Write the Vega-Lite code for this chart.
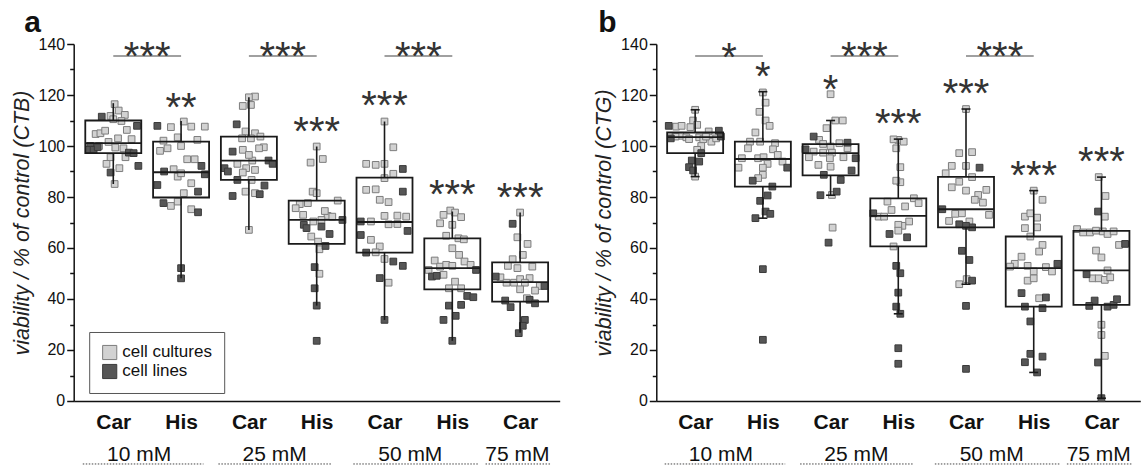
{
  "$schema": "https://vega.github.io/schema/vega-lite/v6.json",
  "background": "white",
  "padding": {"left": 10.7, "top": 8, "right": 0, "bottom": 0},
  "spacing": 33.6,
  "config": {
    "view": {"stroke": null},
    "font": "Liberation Sans",
    "axis": {"labelFont": "Liberation Sans", "titleFont": "Liberation Sans"},
    "legend": {"labelFont": "Liberation Sans"}
  },
  "resolve": {
    "scale": {"x": "independent", "y": "independent", "fill": "independent", "stroke": "independent"},
    "legend": {"fill": "independent", "stroke": "independent"}
  },
  "datasets": {
    "pa": [
      {"x":1.02,"y":116.4,"t":"cell cultures"},{"x":0.96,"y":111.8,"t":"cell cultures"},{"x":1.08,"y":113.9,"t":"cell cultures"},{"x":1.17,"y":112.2,"t":"cell cultures"},{"x":1.0,"y":110.5,"t":"cell cultures"},{"x":1.12,"y":109.8,"t":"cell cultures"},{"x":0.74,"y":104.7,"t":"cell cultures"},{"x":0.81,"y":105.0,"t":"cell cultures"},{"x":0.88,"y":106.0,"t":"cell cultures"},{"x":1.2,"y":106.3,"t":"cell cultures"},{"x":1.27,"y":102.7,"t":"cell cultures"},{"x":0.93,"y":101.6,"t":"cell cultures"},{"x":1.07,"y":103.0,"t":"cell cultures"},{"x":1.03,"y":99.4,"t":"cell cultures"},{"x":1.18,"y":95.6,"t":"cell cultures"},{"x":0.96,"y":95.6,"t":"cell cultures"},{"x":0.9,"y":93.0,"t":"cell cultures"},{"x":1.09,"y":91.3,"t":"cell cultures"},{"x":1.02,"y":85.1,"t":"cell cultures"},{"x":1.15,"y":99.1,"t":"cell cultures"},{"x":0.79,"y":100.0,"t":"cell cultures"},
      {"x":0.83,"y":111.5,"t":"cell lines"},{"x":1.35,"y":107.9,"t":"cell lines"},{"x":0.66,"y":100.0,"t":"cell lines"},{"x":0.64,"y":98.5,"t":"cell lines"},{"x":0.71,"y":98.5,"t":"cell lines"},{"x":0.77,"y":99.5,"t":"cell lines"},{"x":1.23,"y":97.4,"t":"cell lines"},{"x":1.3,"y":97.2,"t":"cell lines"},{"x":1.37,"y":92.2,"t":"cell lines"},{"x":0.96,"y":89.6,"t":"cell lines"},
      {"x":2.04,"y":109.6,"t":"cell cultures"},{"x":1.85,"y":107.4,"t":"cell cultures"},{"x":2.15,"y":107.6,"t":"cell cultures"},{"x":2.35,"y":107.6,"t":"cell cultures"},{"x":1.95,"y":103.4,"t":"cell cultures"},{"x":1.74,"y":102.1,"t":"cell cultures"},{"x":1.8,"y":99.1,"t":"cell cultures"},{"x":1.69,"y":98.1,"t":"cell cultures"},{"x":2.0,"y":100.0,"t":"cell cultures"},{"x":2.24,"y":102.4,"t":"cell cultures"},{"x":2.09,"y":94.8,"t":"cell cultures"},{"x":2.2,"y":94.8,"t":"cell cultures"},{"x":1.89,"y":90.9,"t":"cell cultures"},{"x":1.95,"y":88.0,"t":"cell cultures"},{"x":2.0,"y":89.3,"t":"cell cultures"},{"x":2.15,"y":85.4,"t":"cell cultures"},{"x":2.04,"y":81.5,"t":"cell cultures"},{"x":1.85,"y":76.5,"t":"cell cultures"},{"x":2.15,"y":75.2,"t":"cell cultures"},{"x":1.95,"y":78.2,"t":"cell cultures"},
      {"x":1.65,"y":107.9,"t":"cell lines"},{"x":2.3,"y":92.2,"t":"cell lines"},{"x":1.75,"y":90.0,"t":"cell lines"},{"x":2.35,"y":88.9,"t":"cell lines"},{"x":1.65,"y":84.7,"t":"cell lines"},{"x":2.25,"y":82.1,"t":"cell lines"},{"x":1.74,"y":77.6,"t":"cell lines"},{"x":2.25,"y":74.0,"t":"cell lines"},{"x":2.0,"y":52.1,"t":"cell lines"},{"x":2.0,"y":48.1,"t":"cell lines"},
      {"x":3.09,"y":119.4,"t":"cell cultures"},{"x":3.0,"y":119.1,"t":"cell cultures"},{"x":2.91,"y":115.7,"t":"cell cultures"},{"x":3.03,"y":116.1,"t":"cell cultures"},{"x":2.95,"y":105.7,"t":"cell cultures"},{"x":3.09,"y":105.0,"t":"cell cultures"},{"x":3.17,"y":103.7,"t":"cell cultures"},{"x":2.9,"y":103.0,"t":"cell cultures"},{"x":3.03,"y":103.0,"t":"cell cultures"},{"x":3.22,"y":99.5,"t":"cell cultures"},{"x":3.15,"y":99.1,"t":"cell cultures"},{"x":2.91,"y":98.5,"t":"cell cultures"},{"x":2.83,"y":93.0,"t":"cell cultures"},{"x":2.96,"y":91.3,"t":"cell cultures"},{"x":3.09,"y":90.6,"t":"cell cultures"},{"x":2.91,"y":89.6,"t":"cell cultures"},{"x":3.05,"y":94.3,"t":"cell cultures"},{"x":3.0,"y":96.5,"t":"cell cultures"},{"x":2.95,"y":82.1,"t":"cell cultures"},{"x":3.09,"y":81.5,"t":"cell cultures"},{"x":3.0,"y":67.1,"t":"cell cultures"},{"x":3.04,"y":86.7,"t":"cell cultures"},
      {"x":2.82,"y":108.5,"t":"cell lines"},{"x":2.76,"y":97.8,"t":"cell lines"},{"x":2.64,"y":91.3,"t":"cell lines"},{"x":2.69,"y":90.0,"t":"cell lines"},{"x":3.29,"y":94.3,"t":"cell lines"},{"x":3.35,"y":93.0,"t":"cell lines"},{"x":2.83,"y":86.7,"t":"cell lines"},{"x":3.23,"y":84.5,"t":"cell lines"},{"x":2.76,"y":80.4,"t":"cell lines"},{"x":3.16,"y":81.1,"t":"cell lines"},
      {"x":4.0,"y":99.8,"t":"cell cultures"},{"x":4.09,"y":94.9,"t":"cell cultures"},{"x":3.91,"y":93.5,"t":"cell cultures"},{"x":3.94,"y":82.1,"t":"cell cultures"},{"x":4.0,"y":81.5,"t":"cell cultures"},{"x":4.31,"y":78.6,"t":"cell cultures"},{"x":3.87,"y":77.6,"t":"cell cultures"},{"x":3.75,"y":77.2,"t":"cell cultures"},{"x":3.69,"y":75.6,"t":"cell cultures"},{"x":3.8,"y":73.0,"t":"cell cultures"},{"x":4.16,"y":72.6,"t":"cell cultures"},{"x":4.23,"y":72.3,"t":"cell cultures"},{"x":4.07,"y":71.0,"t":"cell cultures"},{"x":3.95,"y":70.4,"t":"cell cultures"},{"x":3.92,"y":64.5,"t":"cell cultures"},{"x":4.02,"y":62.5,"t":"cell cultures"},{"x":4.04,"y":59.5,"t":"cell cultures"},{"x":4.04,"y":49.9,"t":"cell cultures"},{"x":4.12,"y":74.5,"t":"cell cultures"},
      {"x":4.07,"y":68.4,"t":"cell lines"},{"x":4.19,"y":65.5,"t":"cell lines"},{"x":3.81,"y":69.1,"t":"cell lines"},{"x":3.85,"y":67.8,"t":"cell lines"},{"x":4.13,"y":60.8,"t":"cell lines"},{"x":3.97,"y":52.5,"t":"cell lines"},{"x":3.97,"y":44.2,"t":"cell lines"},{"x":4.0,"y":37.4,"t":"cell lines"},{"x":4.0,"y":23.6,"t":"cell lines"},{"x":4.38,"y":71.0,"t":"cell lines"},
      {"x":5.0,"y":109.6,"t":"cell cultures"},{"x":5.13,"y":99.5,"t":"cell cultures"},{"x":4.73,"y":93.0,"t":"cell cultures"},{"x":4.87,"y":92.6,"t":"cell cultures"},{"x":5.0,"y":93.0,"t":"cell cultures"},{"x":5.13,"y":89.1,"t":"cell cultures"},{"x":5.0,"y":87.4,"t":"cell cultures"},{"x":4.73,"y":82.8,"t":"cell cultures"},{"x":4.87,"y":83.0,"t":"cell cultures"},{"x":4.93,"y":78.9,"t":"cell cultures"},{"x":5.06,"y":78.0,"t":"cell cultures"},{"x":5.0,"y":72.6,"t":"cell cultures"},{"x":5.19,"y":72.7,"t":"cell cultures"},{"x":5.32,"y":72.3,"t":"cell cultures"},{"x":4.8,"y":70.4,"t":"cell cultures"},{"x":5.06,"y":69.3,"t":"cell cultures"},{"x":5.19,"y":69.4,"t":"cell cultures"},{"x":4.8,"y":63.2,"t":"cell cultures"},{"x":4.93,"y":60.6,"t":"cell cultures"},{"x":4.87,"y":58.3,"t":"cell cultures"},{"x":5.0,"y":55.7,"t":"cell cultures"},{"x":5.06,"y":46.4,"t":"cell cultures"},
      {"x":5.27,"y":91.0,"t":"cell lines"},{"x":5.27,"y":82.1,"t":"cell lines"},{"x":4.65,"y":70.4,"t":"cell lines"},{"x":4.65,"y":65.1,"t":"cell lines"},{"x":5.34,"y":66.7,"t":"cell lines"},{"x":4.73,"y":58.2,"t":"cell lines"},{"x":5.13,"y":54.7,"t":"cell lines"},{"x":5.27,"y":53.0,"t":"cell lines"},{"x":4.93,"y":48.2,"t":"cell lines"},{"x":5.0,"y":31.8,"t":"cell lines"},
      {"x":5.97,"y":74.7,"t":"cell cultures"},{"x":6.04,"y":73.9,"t":"cell cultures"},{"x":5.87,"y":73.0,"t":"cell cultures"},{"x":6.13,"y":72.1,"t":"cell cultures"},{"x":5.82,"y":69.7,"t":"cell cultures"},{"x":6.0,"y":69.1,"t":"cell cultures"},{"x":5.91,"y":64.8,"t":"cell cultures"},{"x":6.09,"y":63.8,"t":"cell cultures"},{"x":6.17,"y":63.4,"t":"cell cultures"},{"x":6.0,"y":59.9,"t":"cell cultures"},{"x":6.1,"y":57.3,"t":"cell cultures"},{"x":6.18,"y":54.7,"t":"cell cultures"},{"x":5.74,"y":55.1,"t":"cell cultures"},{"x":5.82,"y":52.7,"t":"cell cultures"},{"x":5.91,"y":53.4,"t":"cell cultures"},{"x":6.0,"y":53.0,"t":"cell cultures"},{"x":6.27,"y":53.4,"t":"cell cultures"},{"x":5.87,"y":49.5,"t":"cell cultures"},{"x":6.04,"y":46.8,"t":"cell cultures"},{"x":6.13,"y":44.2,"t":"cell cultures"},{"x":5.95,"y":44.2,"t":"cell cultures"},{"x":5.65,"y":51.4,"t":"cell cultures"},
      {"x":5.7,"y":48.8,"t":"cell lines"},{"x":5.77,"y":49.1,"t":"cell lines"},{"x":6.35,"y":51.4,"t":"cell lines"},{"x":6.22,"y":41.2,"t":"cell lines"},{"x":6.31,"y":40.7,"t":"cell lines"},{"x":5.95,"y":37.4,"t":"cell lines"},{"x":6.13,"y":37.7,"t":"cell lines"},{"x":6.05,"y":33.4,"t":"cell lines"},{"x":5.87,"y":31.8,"t":"cell lines"},{"x":6.0,"y":23.6,"t":"cell lines"},
      {"x":7.0,"y":73.9,"t":"cell cultures"},{"x":6.96,"y":64.2,"t":"cell cultures"},{"x":7.11,"y":61.6,"t":"cell cultures"},{"x":7.04,"y":57.3,"t":"cell cultures"},{"x":6.89,"y":55.6,"t":"cell cultures"},{"x":6.96,"y":52.1,"t":"cell cultures"},{"x":6.82,"y":53.0,"t":"cell cultures"},{"x":7.18,"y":52.7,"t":"cell cultures"},{"x":6.71,"y":48.5,"t":"cell cultures"},{"x":6.8,"y":46.4,"t":"cell cultures"},{"x":6.91,"y":46.4,"t":"cell cultures"},{"x":7.0,"y":47.8,"t":"cell cultures"},{"x":7.14,"y":48.2,"t":"cell cultures"},{"x":7.07,"y":46.4,"t":"cell cultures"},{"x":7.0,"y":43.8,"t":"cell cultures"},{"x":7.29,"y":45.1,"t":"cell cultures"},{"x":7.22,"y":43.3,"t":"cell cultures"},{"x":7.1,"y":40.3,"t":"cell cultures"},
      {"x":6.89,"y":69.5,"t":"cell lines"},{"x":6.64,"y":48.8,"t":"cell lines"},{"x":7.36,"y":45.1,"t":"cell lines"},{"x":6.78,"y":39.4,"t":"cell lines"},{"x":6.86,"y":36.8,"t":"cell lines"},{"x":7.14,"y":39.7,"t":"cell lines"},{"x":7.22,"y":38.3,"t":"cell lines"},{"x":7.07,"y":31.8,"t":"cell lines"},{"x":7.04,"y":29.5,"t":"cell lines"},{"x":6.98,"y":26.6,"t":"cell lines"}
    ],
    "pb": [
      {"x":1.0,"y":114.2,"t":"cell cultures"},{"x":0.97,"y":110.0,"t":"cell cultures"},{"x":1.03,"y":108.3,"t":"cell cultures"},{"x":0.72,"y":107.6,"t":"cell cultures"},{"x":0.8,"y":107.9,"t":"cell cultures"},{"x":0.93,"y":107.4,"t":"cell cultures"},{"x":1.2,"y":105.7,"t":"cell cultures"},{"x":0.78,"y":104.0,"t":"cell cultures"},{"x":0.87,"y":103.4,"t":"cell cultures"},{"x":0.91,"y":102.7,"t":"cell cultures"},{"x":1.06,"y":103.4,"t":"cell cultures"},{"x":1.12,"y":102.7,"t":"cell cultures"},{"x":1.24,"y":101.7,"t":"cell cultures"},{"x":1.31,"y":103.0,"t":"cell cultures"},{"x":1.16,"y":103.7,"t":"cell cultures"},{"x":1.09,"y":100.0,"t":"cell cultures"},{"x":1.03,"y":98.5,"t":"cell cultures"},{"x":0.97,"y":91.9,"t":"cell cultures"},{"x":1.0,"y":88.0,"t":"cell cultures"},{"x":0.71,"y":103.7,"t":"cell cultures"},
      {"x":0.61,"y":107.9,"t":"cell lines"},{"x":0.64,"y":103.0,"t":"cell lines"},{"x":1.35,"y":106.0,"t":"cell lines"},{"x":1.38,"y":103.7,"t":"cell lines"},{"x":1.09,"y":97.2,"t":"cell lines"},{"x":0.95,"y":94.3,"t":"cell lines"},{"x":1.06,"y":93.9,"t":"cell lines"},{"x":0.91,"y":91.7,"t":"cell lines"},{"x":0.97,"y":90.4,"t":"cell lines"},
      {"x":2.0,"y":121.0,"t":"cell cultures"},{"x":2.04,"y":117.0,"t":"cell cultures"},{"x":1.95,"y":113.4,"t":"cell cultures"},{"x":2.04,"y":110.0,"t":"cell cultures"},{"x":2.1,"y":107.9,"t":"cell cultures"},{"x":1.89,"y":105.3,"t":"cell cultures"},{"x":1.81,"y":101.7,"t":"cell cultures"},{"x":1.96,"y":101.7,"t":"cell cultures"},{"x":2.18,"y":101.1,"t":"cell cultures"},{"x":1.78,"y":99.1,"t":"cell cultures"},{"x":2.15,"y":98.7,"t":"cell cultures"},{"x":2.22,"y":96.5,"t":"cell cultures"},{"x":1.69,"y":95.2,"t":"cell cultures"},{"x":1.93,"y":95.2,"t":"cell cultures"},{"x":2.01,"y":95.6,"t":"cell cultures"},{"x":2.29,"y":93.9,"t":"cell cultures"},{"x":2.07,"y":93.0,"t":"cell cultures"},{"x":1.64,"y":91.5,"t":"cell cultures"},{"x":2.0,"y":91.5,"t":"cell cultures"},{"x":2.0,"y":88.7,"t":"cell cultures"},{"x":1.93,"y":87.4,"t":"cell cultures"},
      {"x":2.36,"y":91.5,"t":"cell lines"},{"x":1.85,"y":86.4,"t":"cell lines"},{"x":2.14,"y":84.1,"t":"cell lines"},{"x":2.07,"y":80.6,"t":"cell lines"},{"x":1.96,"y":78.5,"t":"cell lines"},{"x":2.04,"y":74.3,"t":"cell lines"},{"x":2.11,"y":73.4,"t":"cell lines"},{"x":1.89,"y":71.7,"t":"cell lines"},{"x":2.0,"y":51.7,"t":"cell lines"},{"x":2.0,"y":24.0,"t":"cell lines"},
      {"x":3.0,"y":120.3,"t":"cell cultures"},{"x":3.07,"y":110.0,"t":"cell cultures"},{"x":3.18,"y":110.0,"t":"cell cultures"},{"x":2.94,"y":107.0,"t":"cell cultures"},{"x":2.83,"y":102.4,"t":"cell cultures"},{"x":2.89,"y":100.8,"t":"cell cultures"},{"x":3.0,"y":99.8,"t":"cell cultures"},{"x":3.13,"y":101.1,"t":"cell cultures"},{"x":3.25,"y":99.1,"t":"cell cultures"},{"x":2.75,"y":97.8,"t":"cell cultures"},{"x":2.89,"y":97.4,"t":"cell cultures"},{"x":3.02,"y":97.4,"t":"cell cultures"},{"x":2.68,"y":95.6,"t":"cell cultures"},{"x":2.99,"y":95.2,"t":"cell cultures"},{"x":3.19,"y":95.6,"t":"cell cultures"},{"x":2.82,"y":92.6,"t":"cell cultures"},{"x":3.0,"y":91.9,"t":"cell cultures"},{"x":3.02,"y":80.8,"t":"cell cultures"},{"x":3.03,"y":68.0,"t":"cell cultures"},
      {"x":2.75,"y":103.7,"t":"cell lines"},{"x":2.63,"y":98.7,"t":"cell lines"},{"x":3.25,"y":101.3,"t":"cell lines"},{"x":3.37,"y":95.2,"t":"cell lines"},{"x":3.31,"y":90.4,"t":"cell lines"},{"x":2.9,"y":88.7,"t":"cell lines"},{"x":3.15,"y":86.7,"t":"cell lines"},{"x":3.09,"y":82.1,"t":"cell lines"},{"x":2.85,"y":80.7,"t":"cell lines"},{"x":2.97,"y":62.1,"t":"cell lines"},
      {"x":4.0,"y":102.4,"t":"cell cultures"},{"x":4.08,"y":101.7,"t":"cell cultures"},{"x":3.93,"y":102.6,"t":"cell cultures"},{"x":3.97,"y":99.1,"t":"cell cultures"},{"x":4.03,"y":91.7,"t":"cell cultures"},{"x":4.03,"y":85.8,"t":"cell cultures"},{"x":3.97,"y":86.4,"t":"cell cultures"},{"x":4.23,"y":79.5,"t":"cell cultures"},{"x":4.3,"y":77.6,"t":"cell cultures"},{"x":4.1,"y":76.3,"t":"cell cultures"},{"x":3.84,"y":78.2,"t":"cell cultures"},{"x":3.9,"y":74.9,"t":"cell cultures"},{"x":3.71,"y":72.3,"t":"cell cultures"},{"x":3.79,"y":72.3,"t":"cell cultures"},{"x":4.16,"y":70.4,"t":"cell cultures"},{"x":4.06,"y":68.7,"t":"cell cultures"},{"x":4.0,"y":69.1,"t":"cell cultures"},{"x":4.0,"y":66.8,"t":"cell cultures"},{"x":3.93,"y":60.6,"t":"cell cultures"},
      {"x":4.13,"y":64.2,"t":"cell lines"},{"x":3.63,"y":73.6,"t":"cell lines"},{"x":3.87,"y":65.5,"t":"cell lines"},{"x":3.97,"y":53.0,"t":"cell lines"},{"x":4.03,"y":50.1,"t":"cell lines"},{"x":4.0,"y":42.5,"t":"cell lines"},{"x":3.97,"y":37.0,"t":"cell lines"},{"x":4.03,"y":34.2,"t":"cell lines"},{"x":4.0,"y":20.7,"t":"cell lines"},{"x":4.0,"y":14.6,"t":"cell lines"},
      {"x":5.0,"y":114.5,"t":"cell cultures"},{"x":4.9,"y":97.2,"t":"cell cultures"},{"x":5.09,"y":97.6,"t":"cell cultures"},{"x":4.79,"y":92.2,"t":"cell cultures"},{"x":5.0,"y":92.2,"t":"cell cultures"},{"x":4.7,"y":89.3,"t":"cell cultures"},{"x":5.09,"y":87.8,"t":"cell cultures"},{"x":4.79,"y":83.8,"t":"cell cultures"},{"x":4.9,"y":86.0,"t":"cell cultures"},{"x":5.0,"y":82.5,"t":"cell cultures"},{"x":5.3,"y":82.8,"t":"cell cultures"},{"x":5.18,"y":80.8,"t":"cell cultures"},{"x":5.25,"y":77.8,"t":"cell cultures"},{"x":5.13,"y":78.9,"t":"cell cultures"},{"x":5.34,"y":73.0,"t":"cell cultures"},{"x":4.84,"y":73.4,"t":"cell cultures"},{"x":4.94,"y":73.6,"t":"cell cultures"},{"x":4.75,"y":70.6,"t":"cell cultures"},{"x":5.05,"y":70.4,"t":"cell cultures"},{"x":5.01,"y":47.8,"t":"cell cultures"},{"x":4.9,"y":45.8,"t":"cell cultures"},
      {"x":5.2,"y":91.5,"t":"cell lines"},{"x":4.65,"y":75.2,"t":"cell lines"},{"x":4.9,"y":69.3,"t":"cell lines"},{"x":5.09,"y":68.1,"t":"cell lines"},{"x":5.0,"y":68.7,"t":"cell lines"},{"x":4.94,"y":58.9,"t":"cell lines"},{"x":5.05,"y":55.3,"t":"cell lines"},{"x":5.09,"y":47.2,"t":"cell lines"},{"x":5.0,"y":37.3,"t":"cell lines"},{"x":5.0,"y":12.6,"t":"cell lines"},
      {"x":6.0,"y":82.5,"t":"cell cultures"},{"x":6.13,"y":78.9,"t":"cell cultures"},{"x":5.87,"y":72.3,"t":"cell cultures"},{"x":5.95,"y":73.6,"t":"cell cultures"},{"x":6.05,"y":71.9,"t":"cell cultures"},{"x":5.87,"y":67.8,"t":"cell cultures"},{"x":6.05,"y":68.1,"t":"cell cultures"},{"x":5.95,"y":64.5,"t":"cell cultures"},{"x":6.13,"y":61.2,"t":"cell cultures"},{"x":6.08,"y":58.6,"t":"cell cultures"},{"x":5.82,"y":56.6,"t":"cell cultures"},{"x":5.72,"y":53.8,"t":"cell cultures"},{"x":5.65,"y":52.7,"t":"cell cultures"},{"x":5.91,"y":53.0,"t":"cell cultures"},{"x":6.0,"y":50.8,"t":"cell cultures"},{"x":6.18,"y":52.5,"t":"cell cultures"},{"x":6.27,"y":50.8,"t":"cell cultures"},{"x":5.91,"y":47.2,"t":"cell cultures"},{"x":6.0,"y":48.1,"t":"cell cultures"},{"x":6.08,"y":40.3,"t":"cell cultures"},
      {"x":6.35,"y":53.8,"t":"cell lines"},{"x":5.82,"y":42.3,"t":"cell lines"},{"x":6.18,"y":40.6,"t":"cell lines"},{"x":5.87,"y":37.0,"t":"cell lines"},{"x":6.13,"y":36.4,"t":"cell lines"},{"x":5.95,"y":31.2,"t":"cell lines"},{"x":5.95,"y":18.5,"t":"cell lines"},{"x":6.13,"y":17.4,"t":"cell lines"},{"x":5.87,"y":15.2,"t":"cell lines"},{"x":6.05,"y":11.2,"t":"cell lines"},
      {"x":6.96,"y":87.8,"t":"cell cultures"},{"x":7.06,"y":80.4,"t":"cell cultures"},{"x":7.05,"y":72.3,"t":"cell cultures"},{"x":6.64,"y":67.4,"t":"cell cultures"},{"x":6.73,"y":66.1,"t":"cell cultures"},{"x":6.83,"y":66.1,"t":"cell cultures"},{"x":6.92,"y":66.8,"t":"cell cultures"},{"x":7.02,"y":66.5,"t":"cell cultures"},{"x":7.09,"y":65.5,"t":"cell cultures"},{"x":7.18,"y":66.5,"t":"cell cultures"},{"x":7.26,"y":61.2,"t":"cell cultures"},{"x":6.92,"y":59.0,"t":"cell cultures"},{"x":7.0,"y":56.3,"t":"cell cultures"},{"x":6.87,"y":48.1,"t":"cell cultures"},{"x":6.96,"y":48.1,"t":"cell cultures"},{"x":7.05,"y":47.5,"t":"cell cultures"},{"x":7.13,"y":48.5,"t":"cell cultures"},{"x":7.09,"y":51.2,"t":"cell cultures"},{"x":7.0,"y":29.9,"t":"cell cultures"},{"x":7.0,"y":25.9,"t":"cell cultures"},{"x":7.05,"y":17.7,"t":"cell cultures"},
      {"x":6.95,"y":74.3,"t":"cell lines"},{"x":7.35,"y":61.6,"t":"cell lines"},{"x":6.78,"y":49.7,"t":"cell lines"},{"x":6.9,"y":39.4,"t":"cell lines"},{"x":6.82,"y":37.3,"t":"cell lines"},{"x":7.09,"y":37.0,"t":"cell lines"},{"x":7.18,"y":37.7,"t":"cell lines"},{"x":7.23,"y":39.9,"t":"cell lines"},{"x":6.95,"y":15.1,"t":"cell lines"},{"x":7.0,"y":1.1,"t":"cell lines"}
    ],
    "ba": [
      {"x":1,"lo":85.1,"q1":97.2,"m":101.1,"q3":110.0,"hi":116.8},
      {"x":2,"lo":48.1,"q1":79.8,"m":89.7,"q3":101.7,"hi":109.8},
      {"x":3,"lo":67.1,"q1":86.7,"m":94.3,"q3":103.7,"hi":119.1},
      {"x":4,"lo":37.4,"q1":61.6,"m":71.0,"q3":78.6,"hi":99.8},
      {"x":5,"lo":31.8,"q1":58.2,"m":70.2,"q3":87.6,"hi":109.6},
      {"x":6,"lo":23.6,"q1":43.8,"m":52.1,"q3":63.8,"hi":74.3},
      {"x":7,"lo":26.8,"q1":39.0,"m":46.6,"q3":54.4,"hi":73.9}
    ],
    "bb": [
      {"x":1,"lo":88.0,"q1":97.2,"m":103.5,"q3":105.3,"hi":114.2},
      {"x":2,"lo":71.7,"q1":84.1,"m":94.9,"q3":101.7,"hi":121.3},
      {"x":3,"lo":80.7,"q1":88.5,"m":97.2,"q3":100.7,"hi":110.0},
      {"x":4,"lo":34.2,"q1":60.6,"m":72.6,"q3":79.5,"hi":102.7},
      {"x":5,"lo":45.8,"q1":68.1,"m":75.2,"q3":87.9,"hi":114.5},
      {"x":6,"lo":11.2,"q1":37.0,"m":52.1,"q3":64.5,"hi":82.5},
      {"x":7,"lo":1.1,"q1":37.7,"m":51.2,"q3":66.7,"hi":87.8}
    ],
    "sa": [
      {"x":1.5,"y":138.2,"s":"***"},{"x":2,"y":118.4,"s":"**"},{"x":3.5,"y":138.2,"s":"***"},{"x":4,"y":108.8,"s":"***"},
      {"x":5,"y":118.9,"s":"***"},{"x":5.5,"y":138.2,"s":"***"},{"x":6,"y":84.0,"s":"***"},{"x":7,"y":82.9,"s":"***"}
    ],
    "sb": [
      {"x":1.5,"y":138.0,"s":"*"},{"x":2,"y":130.2,"s":"*"},{"x":3,"y":125.3,"s":"*"},{"x":3.5,"y":138.2,"s":"***"},{"x":4,"y":111.8,"s":"***"},
      {"x":5,"y":123.7,"s":"***"},{"x":5.5,"y":138.2,"s":"***"},{"x":6,"y":91.6,"s":"***"},{"x":7,"y":96.9,"s":"***"}
    ],
    "br": [
      {"x":1,"x2":2,"y":135.3},{"x":3,"x2":4,"y":135.3},{"x":5,"x2":6,"y":135.3}
    ],
    "conc": [
      {"x":1.38,"y":-21.2,"label":"10 mM"},{"x":3.38,"y":-21.2,"label":"25 mM"},{"x":5.38,"y":-21.2,"label":"50 mM"},{"x":6.96,"y":-21.2,"label":"75 mM"}
    ],
    "ul": [
      {"x":0.55,"x2":2.33,"y":-24.7},{"x":2.55,"x2":4.23,"y":-24.7},{"x":4.54,"x2":6.38,"y":-24.7},{"x":6.49,"x2":7.46,"y":-24.7}
    ],
    "ticks": [
      {"y":10},{"y":30},{"y":50},{"y":70},{"y":90},{"y":110},{"y":130}
    ]
  },
  "hconcat": [
    {
      "width": 486,
      "height": 357,
      "title": {"text": "a", "anchor": "start", "frame": "group", "fontSize": 30, "fontWeight": "bold", "color": "#111", "dx": -49.5, "offset": -26, "baseline": "alphabetic"},
      "resolve": {"axis": {"x": "independent", "y": "independent"}},
      "layer": [
        {
          "data": {"name": "pa"},
          "mark": {"type": "point", "shape": "square", "filled": true, "size": 45, "strokeWidth": 1, "opacity": 1},
          "encoding": {
            "x": {"field": "x", "type": "quantitative", "scale": {"domain": [0.49, 7.51], "nice": false, "zero": false},
                  "axis": {"orient": "bottom", "values": [1,2,3,4,5,6,7], "labelExpr": "datum.value % 2 == 1 ? 'Car' : 'His'", "title": null, "ticks": false, "grid": false, "labelFontSize": 21, "labelFontWeight": "bold", "labelColor": "#111", "labelPadding": 11, "domainColor": "#111", "domainWidth": 1.5}},
            "y": {"field": "y", "type": "quantitative", "scale": {"domain": [0, 140], "nice": false},
                  "axis": {"orient": "left", "values": [0,20,40,60,80,100,120,140], "title": "viability / % of control (CTB)", "titleFontStyle": "italic", "titleFontWeight": "normal", "titleFontSize": 21.5, "titleColor": "#222", "titlePadding": 5, "grid": false, "labelFontSize": 16, "labelColor": "#111", "labelPadding": 2, "tickColor": "#111", "tickWidth": 1.5, "tickSize": 7, "domainColor": "#111", "domainWidth": 1.5}},
            "fill": {"field": "t", "type": "nominal", "scale": {"domain": ["cell cultures", "cell lines"], "range": ["#d2d2d2", "#565656"]},
                     "legend": {"orient": "none", "legendX": 15.5, "legendY": 288, "title": null, "strokeColor": "#555", "fillColor": "white", "padding": 12, "labelFontSize": 17, "labelColor": "#111", "labelExpr": "datum.label + ' '", "symbolType": "square", "symbolSize": 200, "symbolStrokeColor": "#222", "symbolStrokeWidth": 1, "rowPadding": 0, "labelLimit": 300}},
            "stroke": {"field": "t", "type": "nominal", "scale": {"domain": ["cell cultures", "cell lines"], "range": ["#7c7c7c", "#3a3a3a"]}, "legend": null}
          }
        },
        {
          "data": {"name": "ticks"},
          "mark": {"type": "point", "opacity": 0},
          "encoding": {
            "y": {"field": "y", "type": "quantitative", "axis": {"orient": "left", "values": [10,30,50,70,90,110,130], "labels": false, "domain": false, "grid": false, "title": null, "tickColor": "#111", "tickWidth": 1.5, "tickSize": 4}}
          }
        },
        {
          "data": {"name": "ba"},
          "mark": {"type": "bar", "orient": "vertical", "width": 56, "fillOpacity": 0, "stroke": "#1a1a1a", "strokeWidth": 1.8},
          "encoding": {"x": {"field": "x", "type": "quantitative", "axis": null}, "y": {"field": "q1", "type": "quantitative", "axis": null}, "y2": {"field": "q3"}}
        },
        {
          "data": {"name": "ba"},
          "mark": {"type": "tick", "orient": "horizontal", "size": 56, "thickness": 1.8, "color": "#1a1a1a", "opacity": 1},
          "encoding": {"x": {"field": "x", "type": "quantitative", "axis": null}, "y": {"field": "m", "type": "quantitative", "axis": null}}
        },
        {
          "data": {"name": "ba"},
          "mark": {"type": "rule", "color": "#1a1a1a", "strokeWidth": 1.6},
          "encoding": {"x": {"field": "x", "type": "quantitative", "axis": null}, "y": {"field": "q3", "type": "quantitative", "axis": null}, "y2": {"field": "hi"}}
        },
        {
          "data": {"name": "ba"},
          "mark": {"type": "rule", "color": "#1a1a1a", "strokeWidth": 1.6},
          "encoding": {"x": {"field": "x", "type": "quantitative", "axis": null}, "y": {"field": "lo", "type": "quantitative", "axis": null}, "y2": {"field": "q1"}}
        },
        {
          "data": {"name": "br"},
          "mark": {"type": "rule", "color": "#808080", "strokeWidth": 1.5},
          "encoding": {"x": {"field": "x", "type": "quantitative", "axis": null}, "x2": {"field": "x2"}, "y": {"field": "y", "type": "quantitative", "axis": null}}
        },
        {
          "data": {"name": "sa"},
          "mark": {"type": "text", "fontSize": 40, "color": "#333", "baseline": "middle", "dy": 9.5, "font": "Liberation Sans"},
          "encoding": {"x": {"field": "x", "type": "quantitative", "axis": null}, "y": {"field": "y", "type": "quantitative", "axis": null}, "text": {"field": "s"}}
        },
        {
          "data": {"name": "conc"},
          "mark": {"type": "text", "fontSize": 21, "color": "#111", "baseline": "middle", "font": "Liberation Sans"},
          "encoding": {"x": {"field": "x", "type": "quantitative", "axis": null}, "y": {"field": "y", "type": "quantitative", "axis": null}, "text": {"field": "label"}}
        },
        {
          "data": {"name": "ul"},
          "mark": {"type": "rule", "color": "#444", "strokeWidth": 1, "strokeDash": [1.5, 1.5]},
          "encoding": {"x": {"field": "x", "type": "quantitative", "axis": null}, "x2": {"field": "x2"}, "y": {"field": "y", "type": "quantitative", "axis": null}}
        }
      ]
    },
    {
      "width": 484,
      "height": 357,
      "title": {"text": "b", "anchor": "start", "frame": "group", "fontSize": 30, "fontWeight": "bold", "color": "#111", "dx": -58, "offset": -26, "baseline": "alphabetic"},
      "resolve": {"axis": {"x": "independent", "y": "independent"}},
      "layer": [
        {
          "data": {"name": "pb"},
          "mark": {"type": "point", "shape": "square", "filled": true, "size": 45, "strokeWidth": 1, "opacity": 1},
          "encoding": {
            "x": {"field": "x", "type": "quantitative", "scale": {"domain": [0.5, 7.5], "nice": false, "zero": false},
                  "axis": {"orient": "bottom", "values": [1,2,3,4,5,6,7], "labelExpr": "datum.value % 2 == 1 ? 'Car' : 'His'", "title": null, "ticks": false, "grid": false, "labelFontSize": 21, "labelFontWeight": "bold", "labelColor": "#111", "labelPadding": 11, "domainColor": "#111", "domainWidth": 1.5}},
            "y": {"field": "y", "type": "quantitative", "scale": {"domain": [0, 140], "nice": false},
                  "axis": {"orient": "left", "values": [0,20,40,60,80,100,120,140], "title": "viability / % of control (CTG)", "titleFontStyle": "italic", "titleFontWeight": "normal", "titleFontSize": 21.5, "titleColor": "#222", "titlePadding": 5, "grid": false, "labelFontSize": 16, "labelColor": "#111", "labelPadding": 2, "tickColor": "#111", "tickWidth": 1.5, "tickSize": 7, "domainColor": "#111", "domainWidth": 1.5}},
            "fill": {"field": "t", "type": "nominal", "scale": {"domain": ["cell cultures", "cell lines"], "range": ["#d2d2d2", "#565656"]}, "legend": null},
            "stroke": {"field": "t", "type": "nominal", "scale": {"domain": ["cell cultures", "cell lines"], "range": ["#7c7c7c", "#3a3a3a"]}, "legend": null}
          }
        },
        {
          "data": {"name": "ticks"},
          "mark": {"type": "point", "opacity": 0},
          "encoding": {
            "y": {"field": "y", "type": "quantitative", "axis": {"orient": "left", "values": [10,30,50,70,90,110,130], "labels": false, "domain": false, "grid": false, "title": null, "tickColor": "#111", "tickWidth": 1.5, "tickSize": 4}}
          }
        },
        {
          "data": {"name": "bb"},
          "mark": {"type": "bar", "orient": "vertical", "width": 56, "fillOpacity": 0, "stroke": "#1a1a1a", "strokeWidth": 1.8},
          "encoding": {"x": {"field": "x", "type": "quantitative", "axis": null}, "y": {"field": "q1", "type": "quantitative", "axis": null}, "y2": {"field": "q3"}}
        },
        {
          "data": {"name": "bb"},
          "mark": {"type": "tick", "orient": "horizontal", "size": 56, "thickness": 1.8, "color": "#1a1a1a", "opacity": 1},
          "encoding": {"x": {"field": "x", "type": "quantitative", "axis": null}, "y": {"field": "m", "type": "quantitative", "axis": null}}
        },
        {
          "data": {"name": "bb"},
          "mark": {"type": "rule", "color": "#1a1a1a", "strokeWidth": 1.6},
          "encoding": {"x": {"field": "x", "type": "quantitative", "axis": null}, "y": {"field": "q3", "type": "quantitative", "axis": null}, "y2": {"field": "hi"}}
        },
        {
          "data": {"name": "bb"},
          "mark": {"type": "rule", "color": "#1a1a1a", "strokeWidth": 1.6},
          "encoding": {"x": {"field": "x", "type": "quantitative", "axis": null}, "y": {"field": "lo", "type": "quantitative", "axis": null}, "y2": {"field": "q1"}}
        },
        {
          "data": {"name": "bb"},
          "mark": {"type": "tick", "orient": "horizontal", "size": 9, "thickness": 1.6, "color": "#1a1a1a", "opacity": 1},
          "encoding": {"x": {"field": "x", "type": "quantitative", "axis": null}, "y": {"field": "hi", "type": "quantitative", "axis": null}}
        },
        {
          "data": {"name": "bb"},
          "mark": {"type": "tick", "orient": "horizontal", "size": 9, "thickness": 1.6, "color": "#1a1a1a", "opacity": 1},
          "encoding": {"x": {"field": "x", "type": "quantitative", "axis": null}, "y": {"field": "lo", "type": "quantitative", "axis": null}}
        },
        {
          "data": {"name": "br"},
          "mark": {"type": "rule", "color": "#808080", "strokeWidth": 1.5},
          "encoding": {"x": {"field": "x", "type": "quantitative", "axis": null}, "x2": {"field": "x2"}, "y": {"field": "y", "type": "quantitative", "axis": null}}
        },
        {
          "data": {"name": "sb"},
          "mark": {"type": "text", "fontSize": 40, "color": "#333", "baseline": "middle", "dy": 9.5, "font": "Liberation Sans"},
          "encoding": {"x": {"field": "x", "type": "quantitative", "axis": null}, "y": {"field": "y", "type": "quantitative", "axis": null}, "text": {"field": "s"}}
        },
        {
          "data": {"name": "conc"},
          "mark": {"type": "text", "fontSize": 21, "color": "#111", "baseline": "middle", "font": "Liberation Sans"},
          "encoding": {"x": {"field": "x", "type": "quantitative", "axis": null}, "y": {"field": "y", "type": "quantitative", "axis": null}, "text": {"field": "label"}}
        },
        {
          "data": {"name": "ul"},
          "mark": {"type": "rule", "color": "#444", "strokeWidth": 1, "strokeDash": [1.5, 1.5]},
          "encoding": {"x": {"field": "x", "type": "quantitative", "axis": null}, "x2": {"field": "x2"}, "y": {"field": "y", "type": "quantitative", "axis": null}}
        }
      ]
    }
  ]
}
